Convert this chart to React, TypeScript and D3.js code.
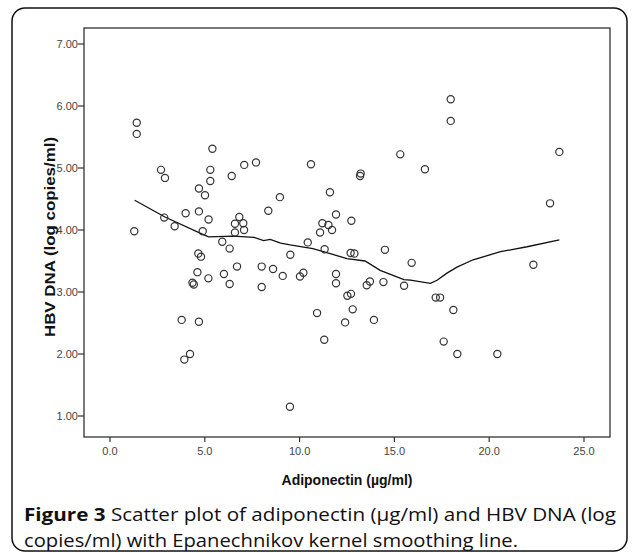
import React from "react";
import * as d3 from "d3";

const adiponectin: number[] = [
  1.41, 1.41, 1.28, 2.69, 2.9, 2.86, 3.41, 3.99, 3.78, 3.92, 4.22, 4.35, 4.42, 4.61, 4.66, 4.8, 4.69, 4.69, 4.69, 4.89,
  5.01, 5.2, 5.19, 5.29, 5.29, 5.4, 5.92, 6.01, 6.31, 6.31, 6.42, 6.59, 6.59, 6.7, 6.82, 7.03, 7.07, 7.08, 7.7, 8.0,
  8.0, 8.35, 8.6, 8.96, 9.11, 9.49, 9.51, 10.02, 10.2, 10.43, 10.6, 10.92, 11.08, 11.2, 11.3, 11.32, 11.52, 11.6, 11.71, 11.92,
  11.92, 11.92, 12.4, 12.52, 12.71, 12.69, 12.89, 12.73, 12.8, 13.19, 13.22, 13.54, 13.71, 13.92, 14.42, 14.5, 15.31, 15.51, 15.91, 16.61,
  17.18, 17.41, 17.6, 17.97, 17.97, 18.11, 18.32, 20.43, 22.33, 23.21, 23.7,
];
const hbvDna: number[] = [
  5.73, 5.55, 3.98, 4.97, 4.84, 4.2, 4.06, 4.27, 2.55, 1.91, 2.0, 3.15, 3.12, 3.32, 3.62, 3.57, 4.67, 4.3, 2.52, 3.98,
  4.56, 4.17, 3.22, 4.97, 4.79, 5.31, 3.81, 3.29, 3.7, 3.13, 4.87, 4.1, 3.96, 3.41, 4.21, 4.11, 4.0, 5.05, 5.09, 3.41,
  3.08, 4.31, 3.37, 4.53, 3.26, 1.15, 3.6, 3.25, 3.31, 3.8, 5.06, 2.66, 3.96, 4.11, 2.23, 3.69, 4.08, 4.61, 4.0, 4.25,
  3.29, 3.14, 2.51, 2.94, 2.97, 3.63, 3.62, 4.15, 2.72, 4.87, 4.91, 3.11, 3.17, 2.55, 3.16, 3.68, 5.22, 3.1, 3.47, 4.98,
  2.91, 2.91, 2.2, 6.11, 5.76, 2.71, 2.0, 2.0, 3.44, 4.43, 5.26,
];

const smoothX: number[] = [1.3, 2.9, 4.75, 5.2, 6.5, 7.6, 8.1, 8.45, 9.0, 9.5, 10.7, 12.5, 13.45, 14.25, 15.5, 15.85, 16.9, 17.25, 17.75, 18.3, 19.15, 20.6, 22.0, 23.7];
const smoothY: number[] = [4.48, 4.21, 3.95, 3.89, 3.9, 3.88, 3.83, 3.85, 3.79, 3.76, 3.7, 3.54, 3.5, 3.35, 3.2, 3.19, 3.14, 3.19, 3.3, 3.4, 3.52, 3.65, 3.73, 3.84];

const xTicks: number[] = [0, 5, 10, 15, 20, 25];
const yTicks: number[] = [1, 2, 3, 4, 5, 6, 7];

const W = 637;
const H = 553;
const plotL = 84, plotR = 610, plotT = 28, plotB = 437;

export default function App() {
  const x = d3.scaleLinear().domain([0, 25]).range([110, 584]);
  const y = d3.scaleLinear().domain([1, 7]).range([416, 44]);
  const pts = adiponectin.map((a, i) => [a, hbvDna[i]] as [number, number]);
  const linePts = smoothX.map((a, i) => [a, smoothY[i]] as [number, number]);
  const lineGen = d3.line<[number, number]>().x((d) => x(d[0])).y((d) => y(d[1]));
  const tickFont = "'Liberation Sans Narrow', 'Liberation Sans', Arial, sans-serif";
  const titleFont = "'Liberation Sans', Arial, sans-serif";
  const capFont = "'Open Sans', sans-serif";
  return (
    <svg width={W} height={H} style={{ position: "absolute", left: 0, top: 0, background: "#fff" }}>
      <rect x={12} y={8} width={615} height={543} rx={13} ry={13} fill="#fff" stroke="#111" strokeWidth={1.5} />
      <rect x={plotL} y={plotT} width={plotR - plotL} height={plotB - plotT} fill="none" stroke="#222" strokeWidth={1.2} />
      {yTicks.map((t) => (
        <g key={"y" + t}>
          <line x1={plotL - 6} x2={plotL} y1={y(t)} y2={y(t)} stroke="#333" strokeWidth={1.2} />
          <text x={plotL - 6} y={y(t) + 4} textAnchor="end" fontFamily={tickFont} fontSize={11} fill="#444">
            {t.toFixed(2)}
          </text>
        </g>
      ))}
      {xTicks.map((t) => (
        <g key={"x" + t}>
          <line x1={x(t)} x2={x(t)} y1={plotB} y2={plotB + 5} stroke="#333" strokeWidth={1.2} />
          <text x={x(t)} y={plotB + 18} textAnchor="middle" fontFamily={tickFont} fontSize={11} fill="#444">
            {t.toFixed(1)}
          </text>
        </g>
      ))}
      <text x={347} y={485} textAnchor="middle" fontFamily={titleFont} fontWeight="bold" fontSize={14} fill="#111">
        Adiponectin (µg/ml)
      </text>
      <text
        transform="translate(55,237) rotate(-90)"
        textAnchor="middle"
        fontFamily={titleFont}
        fontWeight="bold"
        fontSize={14}
        fill="#111"
        textLength={200}
        lengthAdjust="spacingAndGlyphs"
      >
        HBV DNA (log copies/ml)
      </text>
      <path d={lineGen(linePts) || ""} fill="none" stroke="#111" strokeWidth={1.3} />
      {pts.map((p, i) => (
        <circle key={i} cx={x(p[0])} cy={y(p[1])} r={3.6} fill="none" stroke="#333" strokeWidth={1.2} />
      ))}
      <text x={24} y={521} fontFamily={capFont} fontSize={17.5} fill="#111" textLength={592} lengthAdjust="spacingAndGlyphs">
        <tspan fontWeight="bold">Figure 3</tspan> Scatter plot of adiponectin (µg/ml) and HBV DNA (log
      </text>
      <text x={24} y={547} fontFamily={capFont} fontSize={17.5} fill="#111" textLength={494} lengthAdjust="spacingAndGlyphs">
        copies/ml) with Epanechnikov kernel smoothing line.
      </text>
    </svg>
  );
}
